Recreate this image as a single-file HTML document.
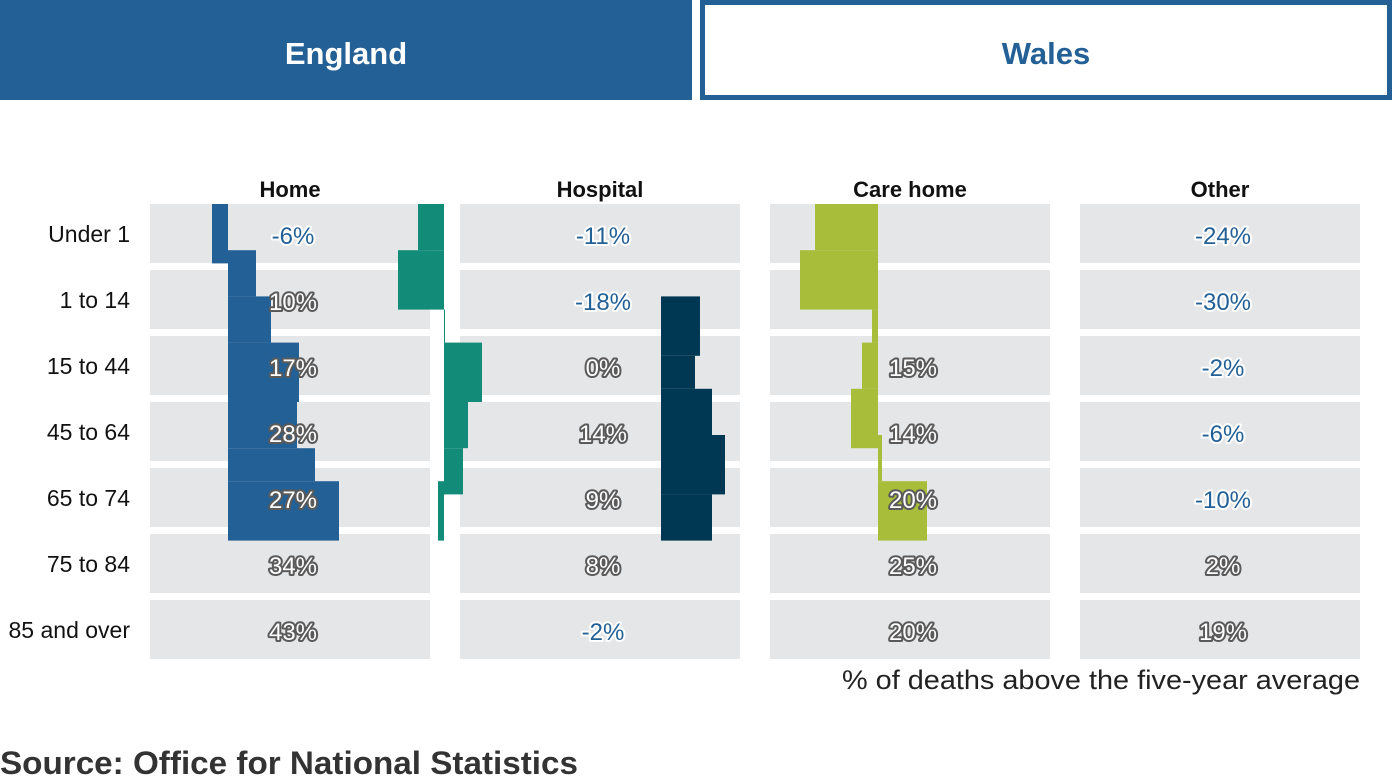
<!DOCTYPE html>
<html><head><meta charset="utf-8"><style>
html,body{margin:0;padding:0;background:#fff;width:1392px;height:776px;overflow:hidden}
svg{display:block}
</style></head><body>
<svg id="c" width="1392" height="776" xmlns="http://www.w3.org/2000/svg">
<rect x="0" y="0" width="692" height="100" fill="#236096"/>
<text x="346" y="64" text-anchor="middle" font-family="Liberation Sans, sans-serif" font-weight="bold" font-size="31" fill="#fff">England</text>
<rect x="702.5" y="2.5" width="687" height="95" fill="#fff" stroke="#236096" stroke-width="5"/>
<text x="1046" y="64" text-anchor="middle" font-family="Liberation Sans, sans-serif" font-weight="bold" font-size="31" fill="#236096">Wales</text>
<g id="grid"></g><g id="bars"></g><g id="labels"></g>
<text x="842" y="689" textLength="518" lengthAdjust="spacingAndGlyphs" font-family="Liberation Sans, sans-serif" font-size="27" fill="#222">% of deaths above the five-year average</text>
<text x="0" y="774" textLength="578" lengthAdjust="spacingAndGlyphs" font-family="Liberation Sans, sans-serif" font-weight="bold" font-size="32" fill="#333">Source: Office for National Statistics</text>
</svg>
<script>
const categories = ["Home","Hospital","Care home","Other"];
const ageGroups = ["Under 1","1 to 14","15 to 44","45 to 64","65 to 74","75 to 84","85 and over"];
const homeValues = [-6,10,17,28,27,34,43];
const hospitalValues = [-11,-18,0,14,9,8,-2];
const careHomeValues = [null,null,15,14,20,25,20];
const otherValues = [-24,-30,-2,-6,-10,2,19];
// transitional step-bar segments (value units; 1 unit = 4px)
const homeSteps = [-4,7,10.75,17.75,17.25,21.75,27.75];
const homeStepRows = [[0,0.9],[0.7,1.4],[1.4,2.1],[2.1,3],[3,3.7],[3.7,4.2],[4.2,5.1]];
const tealSteps = [-6.5,-11.5,0.25,9.5,6,4.75,-1.5];
const tealStepRows = [[0,0.7],[0.7,1.6],[1.6,2.1],[2.1,3],[3,3.7],[3.7,4.4],[4.2,5.1]];
const navySteps = [9.75,8.5,12.75,16,12.75];
const navyStepRows = [[1.4,2.3],[2.3,2.8],[2.8,3.5],[3.5,4.4],[4.4,5.1]];
const greenSteps = [-15.75,-19.5,-1.5,-4,-6.75,1,12.25];
const greenStepRows = [[0,0.7],[0.7,1.6],[1.6,2.1],[2.1,2.8],[2.8,3.7],[3.5,4.2],[4.2,5.1]];

const NS="http://www.w3.org/2000/svg";
const colX=[150,460,770,1080], colW=280, rowY0=204, rowPitch=66, rowH=59;
const xUnit=v=>v*4;
function el(t,a,p){const e=document.createElementNS(NS,t);for(const k in a)e.setAttribute(k,a[k]);document.getElementById(p).appendChild(e);return e;}
const font="Liberation Sans, sans-serif";
categories.forEach((c,i)=>{
  const t=el('text',{x:colX[i]+colW/2,y:197,'text-anchor':'middle','font-family':font,'font-weight':'bold','font-size':22,fill:'#111'},'grid');
  t.textContent=c;
  
  
  ageGroups.forEach((g,j)=>{
    const r=el('rect',{x:colX[i],y:rowY0+j*rowPitch,width:colW,height:rowH,fill:'#e5e6e8'},'grid');
    
    
  });
});
ageGroups.forEach((g,j)=>{
  const t=el('text',{x:130,y:rowY0+j*rowPitch+38,'text-anchor':'end','font-family':font,'font-size':23,fill:'#111'},'grid');
  t.textContent=g;
  
  
});
function yPos(r){const j=Math.floor(r),f=r-j;return rowY0+j*rowPitch+f*rowPitch;}
function steps(vals,rows,base,color,name){
  vals.forEach((v,k)=>{
    const x0=base, x1=base+xUnit(v);
    const y0=yPos(rows[k][0]), y1=yPos(rows[k][1]);
    const w=Math.max(Math.abs(x1-x0),1);
    const r=el('rect',{x:Math.min(x0,x1),y:y0,width:w,height:y1-y0,fill:color},'bars');
    
    
  });
}
steps(homeSteps,homeStepRows,228,'#236096','home-bar-segment');
steps(tealSteps,tealStepRows,444,'#128c78','hospital-bar-segment');
steps(navySteps,navyStepRows,661,'#003753','other-bar-segment');
steps(greenSteps,greenStepRows,878,'#a8bd3a','care-home-bar-segment');
[homeValues,hospitalValues,careHomeValues,otherValues].forEach((vals,i)=>{
  vals.forEach((v,j)=>{
    if(v===null)return;
    const neg=v<0;
    const t=el('text',{x:colX[i]+colW/2+3,y:rowY0+j*rowPitch+40,'text-anchor':'middle','font-family':font,'font-size':24,
      fill:neg?'#236096':'#fff',stroke:neg?'#fff':'#5a5a5a','stroke-width':4,'paint-order':'stroke','stroke-linejoin':'round'},'labels');
    t.textContent=v+'%';
    
    
  });
});
</script>
</body></html>
